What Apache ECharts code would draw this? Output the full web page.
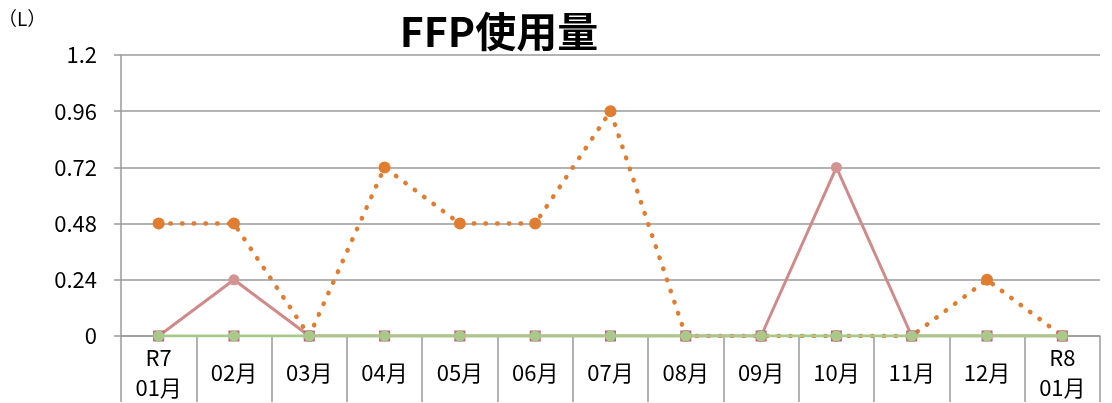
<!DOCTYPE html>
<html>

<head>
  <meta charset="utf-8">
  <title>FFP使用量</title>
  <script src="https://cdn.jsdelivr.net/npm/echarts@6/dist/echarts.min.js"></script>
  <style>
    html, body { margin: 0; padding: 0; background: #fff; }
  </style>
</head>

<body>
  <div id="main" style="width: 1112px;height:403px;"></div>
  <script>
    // カテゴリ
    var months = ['R7\n01月', '02月', '03月', '04月', '05月', '06月', '07月', '08月', '09月', '10月', '11月', '12月', 'R8\n01月'];
    var yTicks = [0, 0.24, 0.48, 0.72, 0.96, 1.2];
    // 系列
    var orangeVals = [0.48, 0.48, 0, 0.72, 0.48, 0.48, 0.96, 0, 0, 0, 0, 0.24, 0];
    var pinkVals = [0, 0.24, 0, 0, 0, 0, 0, 0, 0, 0.72, 0, 0, 0];
    var blueVals = [0, 0, 0, 0, 0, 0, 0, 0, 0, 0, 0, 0, 0];
    var redVals = [0, 0, 0, 0, 0, 0, 0, 0, 0, 0, 0, 0, 0];
    var greenVals = [0, 0, 0, 0, 0, 0, 0, 0, 0, 0, 0, 0, 0];

    var font = 'Noto Sans CJK JP';
    var gray = '#9a9a9a';

    var myChart = echarts.init(document.getElementById('main'));
    var option = {
      animation: false,
      title: {
        text: 'FFP使用量',
        left: 494,
        textAlign: 'center',
        top: 6,
        textStyle: { fontFamily: font, fontSize: 41, fontWeight: 'bold', color: '#000' }
      },
      graphic: [{
        type: 'text',
        left: -2,
        top: 9,
        style: { text: '（L）', fontFamily: font, fontSize: 19, fill: '#000' }
      }],
      grid: { left: 121, right: 12, top: 55, bottom: 66 },
      xAxis: {
        type: 'category',
        data: months,
        boundaryGap: true,
        axisLine: { show: true, lineStyle: { color: gray, width: 1.5 } },
        axisTick: { show: true, length: 66, interval: 0, lineStyle: { color: gray, width: 1.5 } },
        axisLabel: {
          interval: 0,
          margin: 37,
          verticalAlign: 'middle',
          lineHeight: 30,
          fontFamily: font,
          fontSize: 22,
          color: '#000'
        },
        splitLine: { show: false }
      },
      yAxis: {
        type: 'value',
        min: 0,
        max: 1.2,
        interval: 0.24,
        axisLine: { show: true, lineStyle: { color: gray, width: 1.5 } },
        axisTick: { show: true, length: 7, lineStyle: { color: gray, width: 1.5 } },
        axisLabel: {
          margin: 24,
          fontFamily: font,
          fontSize: 22,
          color: '#000',
          formatter: function (v) {
            var hit = yTicks.find(function (t) { return Math.abs(t - v) < 1e-6; });
            return String(hit !== undefined ? hit : +v.toFixed(2));
          }
        },
        splitLine: { show: true, lineStyle: { color: gray, width: 1.5 } }
      },
      series: [
        {
          name: 'orange',
          type: 'line',
          data: orangeVals,
          symbol: 'circle',
          symbolSize: 12,
          itemStyle: { color: '#e07d31' },
          lineStyle: { color: '#e07d31', width: 4.5, type: [0.5, 11.2], cap: 'round' },
          z: 2
        },
        {
          name: 'pink',
          type: 'line',
          data: pinkVals,
          symbol: 'circle',
          symbolSize: 11,
          itemStyle: { color: '#d49393' },
          lineStyle: { color: '#d08a8a', width: 3 },
          z: 3
        },
        {
          name: 'blue',
          type: 'line',
          data: blueVals,
          symbol: 'rect',
          symbolSize: 9,
          itemStyle: { color: '#7e93b8' },
          lineStyle: { color: '#7e93b8', width: 1.5, type: [3, 4] },
          z: 4
        },
        {
          name: 'red',
          type: 'line',
          data: redVals,
          symbol: 'rect',
          symbolSize: 11,
          itemStyle: { color: '#c0607a' },
          lineStyle: { width: 0 },
          z: 5
        },
        {
          name: 'green',
          type: 'line',
          data: greenVals,
          symbol: 'circle',
          symbolSize: 11,
          itemStyle: { color: '#a9c98b' },
          lineStyle: { color: '#a9c98b', width: 3 },
          z: 6
        }
      ]
    };
    myChart.setOption(option);
  </script>
</body>

</html>
